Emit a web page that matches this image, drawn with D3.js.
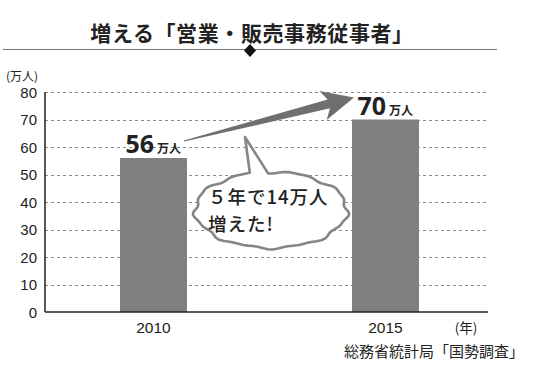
<!doctype html>
<html>
<head>
<meta charset="utf-8">
<style>
    body { margin: 0; background: #fff; }
    svg { display: block; }
    text { fill: #222; }
    .jp { font-family: 'Noto Sans CJK JP', sans-serif; }
    .num { font-family: 'Liberation Sans', Arial, sans-serif; }
    .title { font-size: 21px; font-weight: 700; letter-spacing: 0.6px; }
    .tick-label { font-size: 15px; }
    .grid line { stroke: #8c8c8c; stroke-width: 1; stroke-dasharray: 3 3; }
    .axis { stroke: #222; stroke-width: 1.5; }
    .bar { fill: #807f82; }
    .big { font-family: 'Noto Sans', sans-serif; font-size: 25px; font-weight: 700; }
    .unit { font-size: 12px; font-weight: 700; }
    .bubble-text { font-size: 18.5px; font-weight: 500; letter-spacing: 1px; }
    .source { font-size: 15px; }
</style>
<script src="https://cdn.jsdelivr.net/npm/d3@7"></script>
</head>
<body>
<svg width="550" height="374"></svg>
<script>
const years = ['2010', '2015'];
const values = [56, 70];
const yTicks = [0, 10, 20, 30, 40, 50, 60, 70, 80];
const yUnit = '(万人)';
const xUnit = '(年)';
const valueUnit = '万人';
const title = '増える「営業・販売事務従事者」';
const note = ['５年で14万人', '増えた!'];
const source = '総務省統計局「国勢調査」';

const svg = d3.select('svg');

const plotLeft = 45, plotRight = 488, plotTop = 92, plotBottom = 312;
const barW = 67;

const x = d3.scalePoint()
    .domain(years)
    .range([153.5, 385.5]);

const y = d3.scaleLinear()
    .domain([0, 80])
    .range([plotBottom, plotTop]);

// title + rule
svg.append('text')
    .attr('class', 'jp title')
    .attr('x', 252)
    .attr('y', 41)
    .attr('text-anchor', 'middle')
    .text(title);

svg.append('line')
    .attr('x1', 3).attr('x2', 497)
    .attr('y1', 49.5).attr('y2', 49.5)
    .attr('stroke', '#777').attr('stroke-width', 1);

svg.append('path')
    .attr('d', 'M250,44 L256,50.5 L250,57 L244,50.5 Z')
    .attr('fill', '#111');

// grid
svg.append('g')
    .attr('class', 'grid')
    .selectAll('line')
    .data(yTicks.filter(d => d > 0))
    .join('line')
    .attr('x1', plotLeft).attr('x2', plotRight)
    .attr('y1', d => Math.round(y(d)) + 0.5)
    .attr('y2', d => Math.round(y(d)) + 0.5);

// y tick labels
svg.append('g')
    .selectAll('text')
    .data(yTicks)
    .join('text')
    .attr('class', 'num tick-label')
    .attr('x', 37)
    .attr('y', d => y(d) + 5.5)
    .attr('text-anchor', 'end')
    .text(d => d);

svg.append('text')
    .attr('class', 'jp')
    .attr('x', 6)
    .attr('y', 80.5)
    .attr('font-size', 12)
    .text(yUnit);

// bars
svg.append('g')
    .selectAll('rect')
    .data(values)
    .join('rect')
    .attr('class', 'bar')
    .attr('x', (d, i) => x(years[i]) - barW / 2)
    .attr('y', d => y(d))
    .attr('width', barW)
    .attr('height', d => y(0) - y(d));

// axes
svg.append('line').attr('class', 'axis')
    .attr('x1', plotLeft).attr('x2', plotLeft)
    .attr('y1', plotTop).attr('y2', plotBottom);
svg.append('line').attr('class', 'axis')
    .attr('x1', plotLeft).attr('x2', plotRight)
    .attr('y1', plotBottom).attr('y2', plotBottom);

// x labels
svg.append('g')
    .selectAll('text')
    .data(years)
    .join('text')
    .attr('class', 'num')
    .attr('font-size', 15.5)
    .attr('x', d => x(d))
    .attr('y', 333)
    .attr('text-anchor', 'middle')
    .text(d => d);

svg.append('text')
    .attr('class', 'jp')
    .attr('font-size', 13.5)
    .attr('x', 466)
    .attr('y', 333)
    .attr('text-anchor', 'middle')
    .text(xUnit);

// value labels
values.forEach((v, i) => {
    const g = svg.append('text')
        .attr('x', x(years[i]) - 28)
        .attr('y', y(v) - 5);
    g.append('tspan').attr('class', 'big').text(v);
    g.append('tspan').attr('class', 'jp unit').attr('dx', 3).text(valueUnit);
});

// arrow between the two labels
const S = [184, y(values[0]) - 17];
const T = [354, y(values[1]) - 22];
const dx = T[0] - S[0], dy = T[1] - S[1];
const L = Math.hypot(dx, dy);
const u = [dx / L, dy / L], n = [-u[1], u[0]];
const pt = (a, b) => [S[0] + u[0] * a + n[0] * b, S[1] + u[1] * a + n[1] * b];
const hb = L - 29;
const arrowPts = [
    pt(0, -0.6), pt(hb + 3, -4.5), pt(hb - 3, -15), pt(L, 0),
    pt(hb - 3, 15), pt(hb + 3, 4.5), pt(0, 0.6)
];
svg.append('path')
    .attr('d', d3.line()(arrowPts) + 'Z')
    .attr('fill', '#6f6f70');

// speech bubble
const cx = 271, cy = 210, rx = 76, ry = 38;
const tip = [245, 137];
const a1 = Math.atan2((173 - cy) / ry, (250 - cx) / rx);
const a2 = Math.atan2((172 - cy) / ry, (268 - cx) / rx);
const bubblePts = [];
const steps = 90;
for (let k = 0; k <= steps; k++) {
    const a = a2 + (k / steps) * (2 * Math.PI - (a2 - a1));
    const w = 1 + 0.025 * Math.sin(a * 9) + 0.015 * Math.sin(a * 17);
    bubblePts.push([cx + rx * w * Math.cos(a), cy + ry * w * Math.sin(a)]);
}
bubblePts.push(tip);
svg.append('path')
    .attr('d', d3.line().curve(d3.curveLinear)(bubblePts) + 'Z')
    .attr('fill', '#fff')
    .attr('stroke', '#858585')
    .attr('stroke-width', 2.6)
    .attr('stroke-linejoin', 'round');

note.forEach((t, i) => {
    svg.append('text')
        .attr('class', 'jp bubble-text')
        .attr('x', 208)
        .attr('y', 204 + i * 27)
        .text(t);
});

// source
svg.append('text')
    .attr('class', 'jp source')
    .attr('x', 524)
    .attr('y', 357)
    .attr('text-anchor', 'end')
    .text(source);
</script>
</body>
</html>
